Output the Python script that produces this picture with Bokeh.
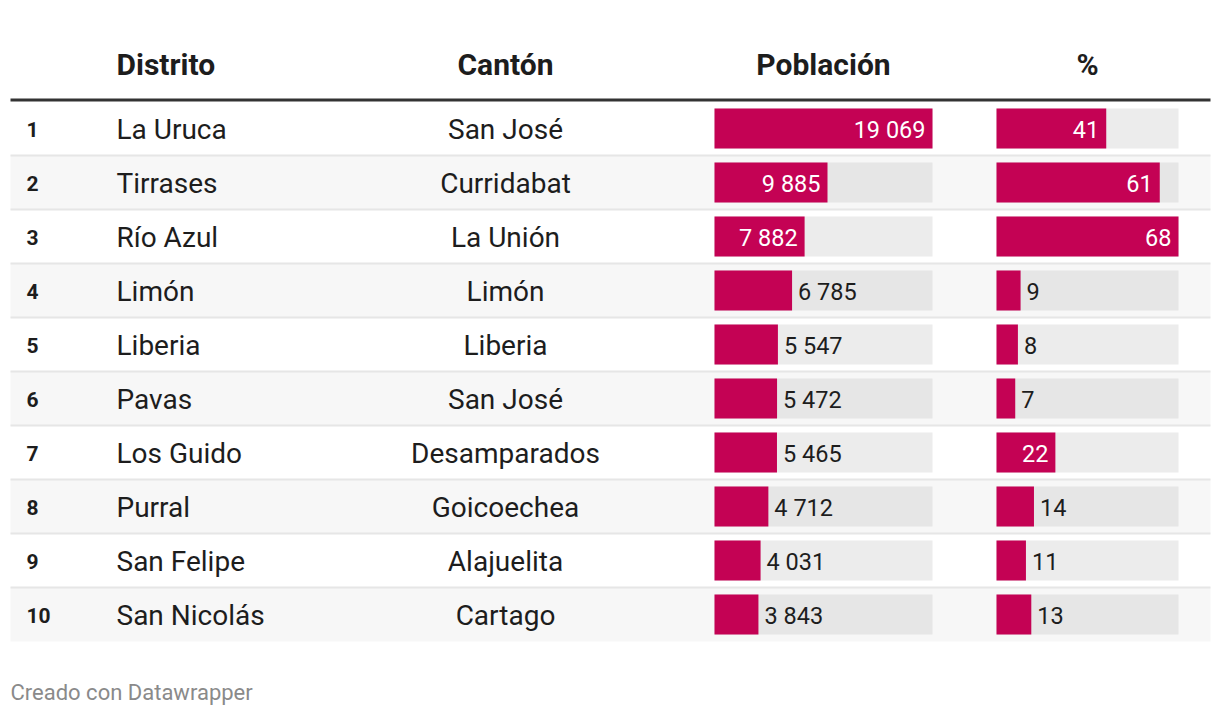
from bokeh.plotting import figure
from bokeh.models import Range1d
from bokeh.core.properties import value
from bokeh.embed import file_html
from bokeh.resources import INLINE

# ---- data ----
rank = [1, 2, 3, 4, 5, 6, 7, 8, 9, 10]
distrito = ["La Uruca", "Tirrases", "Río Azul", "Limón", "Liberia", "Pavas",
            "Los Guido", "Purral", "San Felipe", "San Nicolás"]
canton = ["San José", "Curridabat", "La Unión", "Limón", "Liberia", "San José",
          "Desamparados", "Goicoechea", "Alajuelita", "Cartago"]
poblacion = [19069, 9885, 7882, 6785, 5547, 5472, 5465, 4712, 4031, 3843]
porcentaje = [41, 61, 68, 9, 8, 7, 22, 14, 11, 13]
headers = ["Distrito", "Cantón", "Población", "%"]
footer = "Creado con Datawrapper"

# ---- layout ----
W, H = 1212, 708
FONT = value("Roboto")
ACCENT = "#c40254"
DARK = "#1d1d1d"

TABLE_L, TABLE_R = 10, 1210
HEAD_Y = 64
LINE_Y = 99.5
ROW0 = 101
ROW_H = 54
BAR_H = 40
POB_X0, POB_W = 714, 218
PCT_X0, PCT_W = 996, 182
COL_RANK = 26
COL_DIST = 116
COL_CANT = 505

p = figure(width=W, height=H, x_range=Range1d(0, W), y_range=Range1d(H, 0),
           output_backend="svg", toolbar_location=None, min_border=0)
p.axis.visible = False
p.grid.visible = False
p.outline_line_color = None
p.background_fill_color = "white"
p.border_fill_color = "white"

n = len(rank)
centers = [ROW0 + ROW_H * i + ROW_H / 2 for i in range(n)]
striped = [i % 2 == 1 for i in range(n)]

# stripes
st_idx = [i for i in range(n) if striped[i]]
p.quad(left=[TABLE_L] * len(st_idx), right=[TABLE_R] * len(st_idx),
       top=[ROW0 + ROW_H * i for i in st_idx],
       bottom=[ROW0 + ROW_H * (i + 1) for i in st_idx],
       fill_color="#f7f7f7", line_color=None)

# separators
for i in range(1, n):
    y = ROW0 + ROW_H * i
    p.line([TABLE_L, TABLE_R], [y, y], line_color="#e6e6e6", line_width=2)

# header line
p.line([TABLE_L, TABLE_R], [LINE_Y, LINE_Y], line_color="#333333", line_width=3)

# headers
p.text(x=[COL_DIST], y=[HEAD_Y], text=[headers[0]], text_font=FONT, text_font_style="bold",
       text_font_size="30px", text_color=DARK, text_align="left", text_baseline="middle")
p.text(x=[COL_CANT, POB_X0 + POB_W / 2, PCT_X0 + PCT_W / 2], y=[HEAD_Y] * 3,
       text=headers[1:], text_font=FONT, text_font_style="bold",
       text_font_size="30px", text_color=DARK, text_align="center", text_baseline="middle")

# row texts
ty = [c + 1 for c in centers]
p.text(x=[COL_RANK] * n, y=ty, text=[str(r) for r in rank], text_font=FONT,
       text_font_style="bold", text_font_size="21px", text_color=DARK,
       text_align="left", text_baseline="middle")
p.text(x=[COL_DIST] * n, y=ty, text=distrito, text_font=FONT,
       text_font_size="28px", text_color=DARK, text_align="left", text_baseline="middle")
p.text(x=[COL_CANT] * n, y=ty, text=canton, text_font=FONT,
       text_font_size="28px", text_color=DARK, text_align="center", text_baseline="middle")


def bar_column(vals, x0, width, labels):
    vmax = max(vals)
    bg = ["#e6e6e6" if s else "#ececec" for s in striped]
    p.quad(left=[x0] * n, right=[x0 + width] * n,
           top=[c - BAR_H / 2 for c in centers], bottom=[c + BAR_H / 2 for c in centers],
           fill_color=bg, line_color=None)
    rights = [x0 + width * v / vmax for v in vals]
    p.quad(left=[x0] * n, right=rights,
           top=[c - BAR_H / 2 for c in centers], bottom=[c + BAR_H / 2 for c in centers],
           fill_color=ACCENT, line_color=None)
    in_x, in_y, in_t, out_x, out_y, out_t = [], [], [], [], [], []
    for r, c, lab in zip(rights, centers, labels):
        est = sum(5.7 if ch == " " else 12.9 for ch in lab)
        if (r - x0) > est + 30:
            in_x.append(r - 7); in_y.append(c + 1); in_t.append(lab)
        else:
            out_x.append(r + 6); out_y.append(c + 1); out_t.append(lab)
    p.text(x=in_x, y=in_y, text=in_t, text_font=FONT, text_font_size="23.5px",
           text_color="white", text_align="right", text_baseline="middle")
    p.text(x=out_x, y=out_y, text=out_t, text_font=FONT, text_font_size="23.5px",
           text_color=DARK, text_align="left", text_baseline="middle")


bar_column(poblacion, POB_X0, POB_W, [f"{v:,}".replace(",", " ") for v in poblacion])
bar_column(porcentaje, PCT_X0, PCT_W, [str(v) for v in porcentaje])

# footer
p.text(x=[10], y=[692], text=[footer], text_font=FONT, text_font_size="22px",
       text_color="#8a8a8a", text_align="left", text_baseline="middle")

open("out.html", "w").write(file_html(p, INLINE))
